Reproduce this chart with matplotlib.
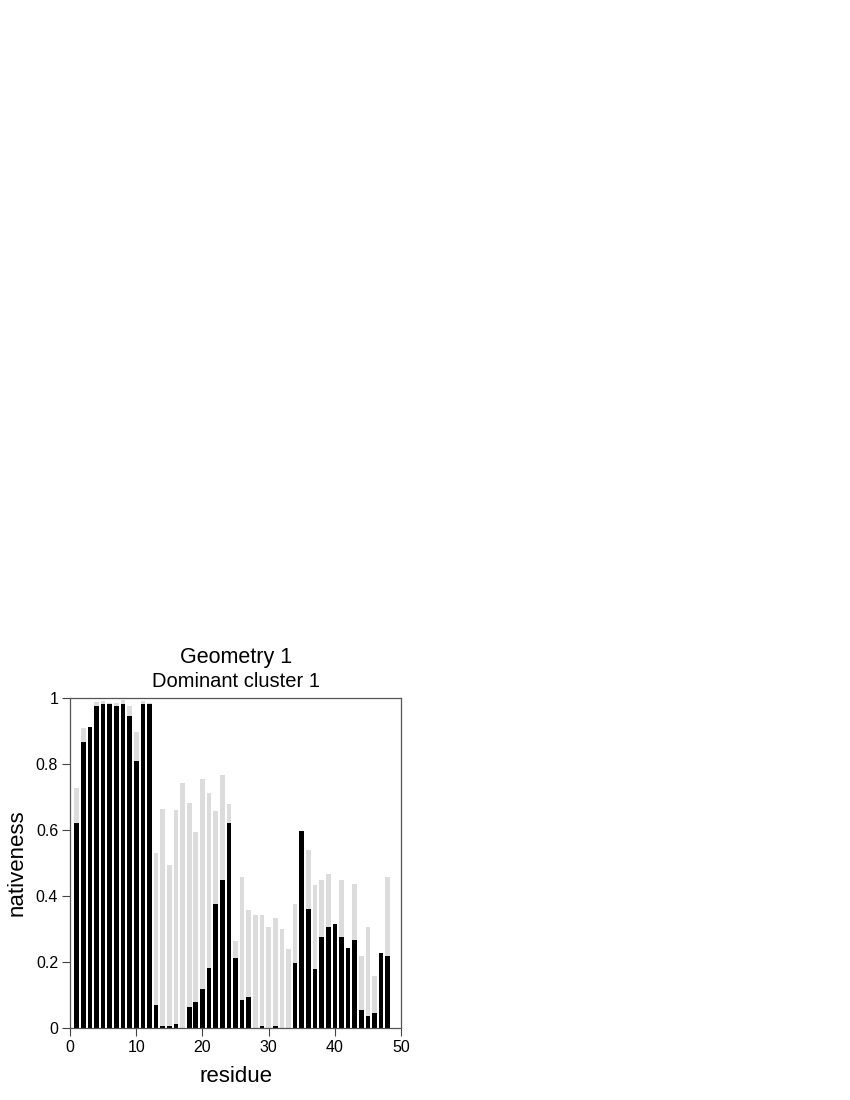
import numpy as np
import matplotlib
matplotlib.use("Agg")
import matplotlib.pyplot as plt

plt.rcParams['font.family'] = ['Liberation Sans', 'DejaVu Sans']

residue = np.arange(1, 49)
# grey: total nativeness, black: dominant cluster
grey_vals = [0.727, 0.909, 0.912, 0.988, 0.991, 0.985, 0.985, 0.994, 0.977, 0.897,
             0.991, 0.985, 0.529, 0.664, 0.495, 0.660, 0.743, 0.681, 0.595, 0.755,
             0.712, 0.656, 0.766, 0.680, 0.263, 0.458, 0.358, 0.342, 0.342, 0.307,
             0.334, 0.301, 0.240, 0.377, 0.597, 0.538, 0.434, 0.448, 0.468, 0.314,
             0.448, 0.243, 0.436, 0.218, 0.306, 0.157, 0.227, 0.458]
black_vals = [0.622, 0.867, 0.912, 0.977, 0.983, 0.983, 0.977, 0.983, 0.945, 0.810,
              0.983, 0.983, 0.070, 0.005, 0.005, 0.013, 0.0, 0.062, 0.078, 0.117,
              0.181, 0.377, 0.448, 0.621, 0.212, 0.085, 0.093, 0.0, 0.006, 0.0,
              0.006, 0.0, 0.0, 0.196, 0.597, 0.360, 0.180, 0.275, 0.306, 0.314,
              0.275, 0.243, 0.267, 0.053, 0.037, 0.046, 0.227, 0.219]

fig = plt.figure(figsize=(8.5, 11), dpi=100)
ax = fig.add_axes([0.0824, 0.0655, 0.3894, 0.3])

ax.bar(residue, grey_vals, width=0.7, color='#dcdcdc', linewidth=0)
ax.bar(residue, black_vals, width=0.7, color='black', linewidth=0)

ax.set_xlim(0, 50)
ax.set_ylim(0, 1)
ax.set_xticks([0, 10, 20, 30, 40, 50])
ax.set_yticks([0, 0.2, 0.4, 0.6, 0.8, 1])
ax.set_yticklabels(['0', '0.2', '0.4', '0.6', '0.8', '1'])
ax.tick_params(direction='out', length=5.5, width=0.8, labelsize=11.5, color='#444444', pad=3)
for s in ax.spines.values():
    s.set_color('#555555')
    s.set_linewidth(0.9)

ax.set_xlabel('residue', fontsize=16, labelpad=8)
ax.set_ylabel('nativeness', fontsize=16, labelpad=6)

fig.text(0.278, 0.402, 'Geometry 1', ha='center', va='center', fontsize=15.5)
fig.text(0.278, 0.3805, 'Dominant cluster 1', ha='center', va='center', fontsize=14.5)

fig.savefig('out.png', dpi=100)
